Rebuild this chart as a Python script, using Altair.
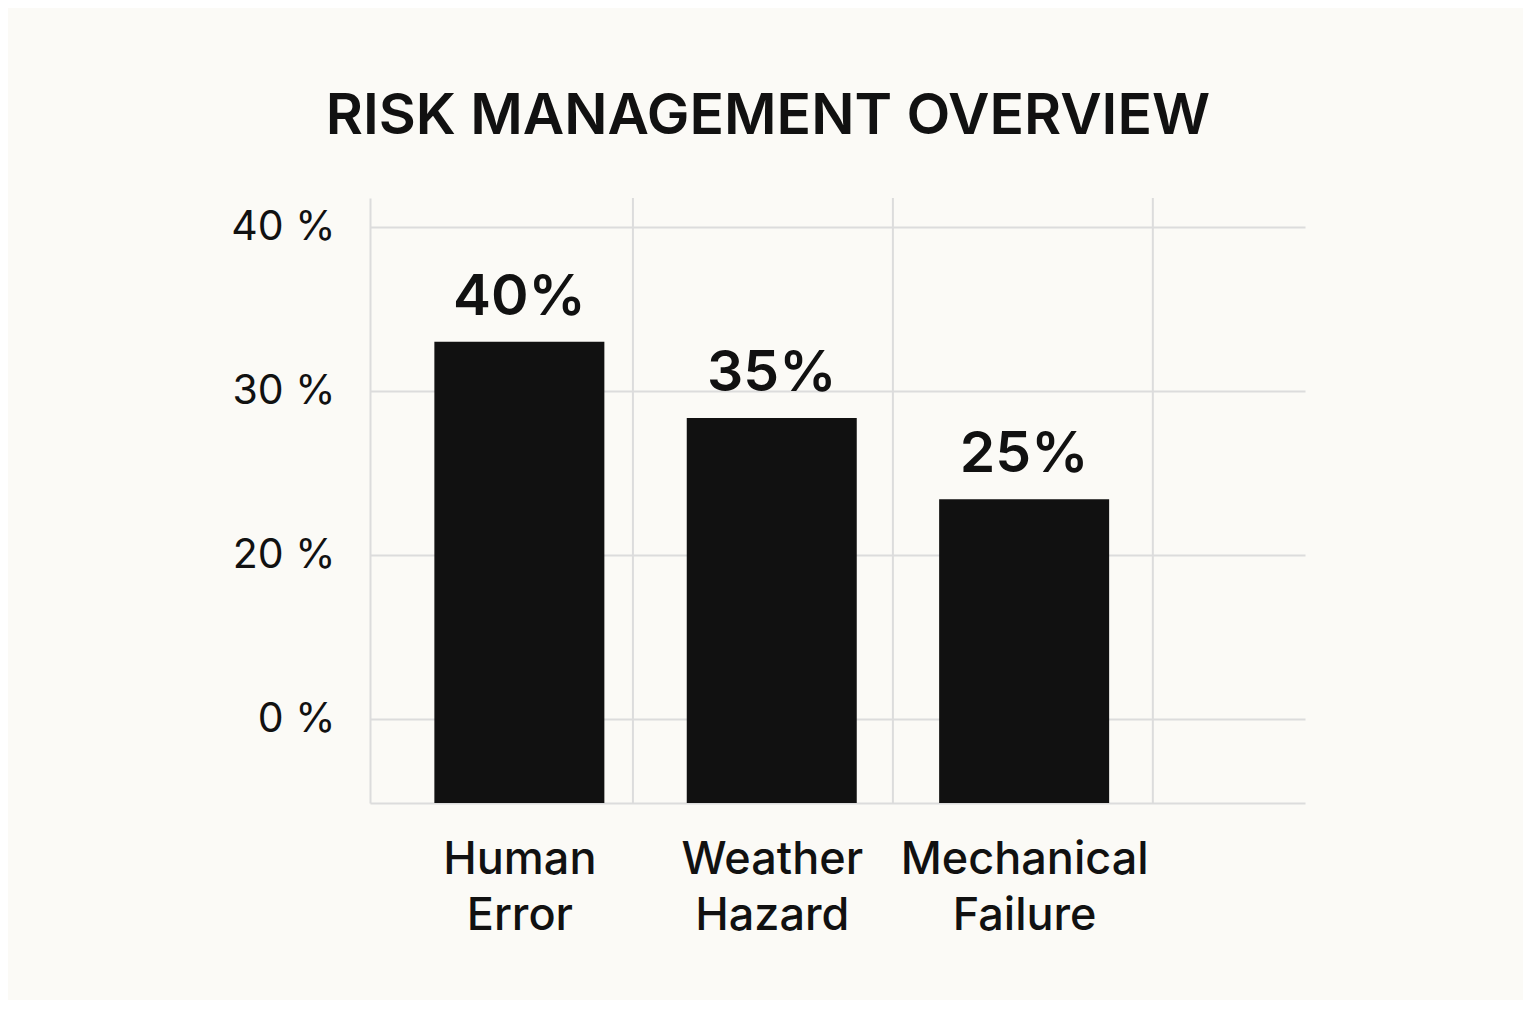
import altair as alt
import pandas as pd

# ---- data ----
categories = ["Human Error", "Weather Hazard", "Mechanical Failure"]
value_labels = ["40%", "35%", "25%"]
# drawn bar heights, in units of the evenly spaced y gridlines (0 = "0 %" line)
bar_heights = [2.30, 1.835, 1.34]
ytick_labels = ["0 %", "20 %", "30 %", "40 %"]
ytick_positions = [0, 1, 2, 3]
# vertical separator gridlines, in category-index units
divider_positions = [0.45, 1.48, 2.51]
y_min, y_max = -0.512, 3.177
x_min, x_max = -0.572, 3.093

bars_df = pd.DataFrame({
    "idx": list(range(len(categories))),
    "category": categories,
    "height": bar_heights,
    "label": value_labels,
})
div_df = pd.DataFrame({"pos": divider_positions})

FONT = "Inter"
GRID = "#dcdcdc"
BG = "#fbfaf6"
INK = "#111111"

x_scale = alt.Scale(domain=[x_min, x_max], nice=False, zero=False)
y_scale = alt.Scale(domain=[y_min, y_max], nice=False, zero=False)

label_arr = "[" + ",".join("'" + c + "'" for c in categories) + "]"
ytick_arr = "[" + ",".join("'" + c + "'" for c in ytick_labels) + "]"

x_axis = alt.Axis(
    values=list(range(len(categories))),
    labelExpr=f"split({label_arr}[round(datum.value)], ' ')",
    grid=False, ticks=False, domain=True, domainColor=GRID, domainWidth=2,
    labelFontSize=45, labelFont=FONT, labelFontWeight=500, labelColor=INK,
    labelPadding=34, labelLineHeight=56, labelBaseline="top", labelLimit=0,
    title=None,
)
y_axis = alt.Axis(
    values=ytick_positions,
    labelExpr=f"{ytick_arr}[round(datum.value)]",
    grid=True, gridColor=GRID, gridWidth=2,
    ticks=False, domain=True, domainColor=GRID, domainWidth=2,
    labelFontSize=41, labelFont=FONT, labelColor=INK, labelPadding=35,
    labelLimit=0, title=None,
)

base = alt.Chart(bars_df)

bars = base.mark_bar(color=INK, size=170).encode(
    x=alt.X("idx:Q", scale=x_scale, axis=x_axis),
    y=alt.Y("height:Q", scale=y_scale, axis=y_axis),
    y2=alt.datum(y_min),
)

dividers = alt.Chart(div_df).mark_rule(color=GRID, strokeWidth=2).encode(
    x=alt.X("pos:Q", scale=x_scale),
)

texts = base.mark_text(
    font=FONT, fontSize=57, fontWeight=600, color=INK,
    baseline="alphabetic", dy=-27,
).encode(
    x=alt.X("idx:Q", scale=x_scale),
    y=alt.Y("height:Q", scale=y_scale),
    text="label:N",
)

chart = alt.layer(dividers, bars, texts).properties(
    width=935,
    height=605,
    background=BG,
    padding={"left": 222, "top": 80, "right": 218, "bottom": 62},
    title=alt.TitleParams(
        "RISK MANAGEMENT OVERVIEW",
        font=FONT, fontSize=57, fontWeight=600, color=INK,
        anchor="middle", frame="bounds", offset=51,
    ),
).configure_view(stroke=None)

chart.save("out.html", embed_options={"renderer": "svg", "actions": False})
